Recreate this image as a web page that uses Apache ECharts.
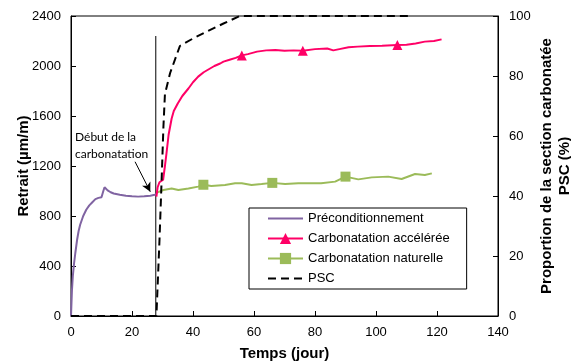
<!DOCTYPE html>
<html>
<head>
<meta charset="utf-8">
<script src="https://cdn.jsdelivr.net/npm/echarts@6/dist/echarts.min.js"></script>
<style>
  html, body { margin: 0; padding: 0; background: #fff; }
  #chart { width: 571px; height: 362px; }
</style>
</head>
<body>
<div id="chart"></div>
<script>
// Préconditionnement
var precondX = [0, 0.3, 0.6, 1, 1.4, 2, 2.5, 3, 4, 5, 6, 7, 8, 9, 10, 10.6, 11, 12, 13, 14, 16, 18, 20, 22, 24, 26, 27.5, 28];
var precondY = [0, 200, 320, 420, 500, 610, 680, 730, 800, 850, 885, 910, 935, 945, 950, 1000, 1030, 1005, 990, 980, 970, 962, 958, 955, 958, 962, 970, 975];

// Carbonatation accélérée
var accX = [28, 28.4, 29, 30.2, 30.8, 31.3, 32, 33, 33.7, 35, 36.5, 38.5, 40, 41.7, 43.5, 45.6, 47, 48.9, 50, 52, 54, 56, 58, 61, 64, 67, 70, 73, 76, 80, 84, 86, 88, 91, 94, 98, 102, 107, 110, 113, 116, 119, 121.5];
var accY = [955, 1030, 1070, 1090, 1200, 1300, 1450, 1580, 1640, 1700, 1760, 1820, 1870, 1915, 1950, 1980, 2000, 2020, 2035, 2050, 2065, 2085, 2095, 2115, 2125, 2128, 2122, 2125, 2122, 2135, 2140, 2125, 2135, 2150, 2155, 2160, 2162, 2168, 2170, 2180, 2195, 2200, 2213];
var accMarkers = [56, 76, 107];

// Carbonatation naturelle
var natX = [28, 28.6, 30.3, 33, 35.2, 38.5, 41.7, 43.4, 46, 50.5, 53.8, 56, 59.2, 62.5, 66, 70.2, 74.5, 78, 82, 86.6, 90, 94.2, 98.6, 104, 108.4, 112.8, 116, 118.3];
var natY = [985, 995, 1008, 1020, 1008, 1020, 1035, 1050, 1040, 1048, 1062, 1062, 1048, 1056, 1065, 1056, 1062, 1062, 1062, 1075, 1115, 1093, 1109, 1115, 1096, 1136, 1128, 1141];
var natMarkers = [43.4, 66, 90];

// PSC (%)
var pscX = [0, 28, 29, 29.7, 30.3, 30.8, 32.5, 35.7, 40, 44.5, 50, 55.4, 112];
var pscY = [0, 0, 25, 45, 63, 74, 81, 90, 92.5, 94.8, 97.5, 100, 100];

// début de la carbonatation
var startDay = 27.8;
var startLineTop = 2240;

function pairs(xs, ys, markers) {
  var out = [];
  for (var i = 0; i < xs.length; i++) {
    if (markers && markers.indexOf(xs[i]) === -1) {
      out.push({ value: [xs[i], ys[i]], symbol: "none" });
    } else {
      out.push([xs[i], ys[i]]);
    }
  }
  return out;
}

var font = "Liberation Sans";
var noSymbol = { color: "rgba(0,0,0,0)", borderWidth: 0, opacity: 0 };
var myChart = echarts.init(document.getElementById("chart"));

var option = {
  animation: false,
  textStyle: { fontFamily: font },
  grid: {
    left: 71,
    right: 73,
    top: 16,
    bottom: 46,
    containLabel: false,
    outerBoundsMode: "none",
    show: true,
    borderColor: "#000",
    borderWidth: 1,
  },
  legend: {
    orient: "vertical",
    left: 249,
    top: 208,
    itemWidth: 35,
    itemHeight: 14,
    itemGap: 7,
    padding: [4, 17, 4, 18],
    backgroundColor: "#fff",
    borderColor: "#000",
    borderWidth: 1,
    borderRadius: 0,
    textStyle: { fontFamily: font, fontSize: 13, color: "#000" },
    data: [
      { name: "Préconditionnement", itemStyle: noSymbol },
      { name: "Carbonatation accélérée" },
      { name: "Carbonatation naturelle" },
      { name: "PSC", itemStyle: noSymbol },
    ],
  },
  graphic: [
    {
      type: "text",
      left: 75,
      top: 129,
      style: {
        text: "Début de la\ncarbonatation",
        fontFamily: "Lato",
        fontSize: 12,
        lineHeight: 17,
        fill: "#000",
      },
    },
  ],
  xAxis: {
    type: "value",
    min: 0,
    max: 140,
    interval: 20,
    name: "Temps (jour)",
    nameLocation: "middle",
    nameGap: 30,
    nameMoveOverlap: false,
    nameTextStyle: { fontFamily: font, fontSize: 15, fontWeight: "bold", color: "#000" },
    axisLine: { lineStyle: { color: "#000", width: 1 } },
    axisTick: { inside: true, length: 5, lineStyle: { color: "#000" } },
    axisLabel: { fontFamily: font, fontSize: 13, color: "#000", margin: 10 },
    splitLine: { show: false },
  },
  yAxis: [
    {
      type: "value",
      min: 0,
      max: 2400,
      interval: 400,
      name: "Retrait (µm/m)",
      nameLocation: "middle",
      nameRotate: 90,
      nameGap: 40,
      nameMoveOverlap: false,
      nameTextStyle: { fontFamily: font, fontSize: 15, fontWeight: "bold", color: "#000" },
      axisLine: { show: true, lineStyle: { color: "#000", width: 1 } },
      axisTick: { show: true, inside: true, length: 5, lineStyle: { color: "#000" } },
      axisLabel: { fontFamily: font, fontSize: 13, color: "#000", margin: 10, formatter: function (v) { return String(v); } },
      splitLine: { show: false },
    },
    {
      type: "value",
      position: "right",
      min: 0,
      max: 100,
      interval: 20,
      name: "Proportion de la section carbonatée\nPSC (%)",
      nameLocation: "middle",
      nameRotate: 90,
      nameGap: 40,
      nameMoveOverlap: false,
      nameTextStyle: { fontFamily: font, fontSize: 15, fontWeight: "bold", color: "#000", lineHeight: 18 },
      axisLine: { show: true, lineStyle: { color: "#000", width: 1 } },
      axisTick: { show: true, inside: true, length: 5, lineStyle: { color: "#000" } },
      axisLabel: { fontFamily: font, fontSize: 13, color: "#000", margin: 11 },
      splitLine: { show: false },
    },
  ],
  series: [
    {
      name: "start",
      type: "line",
      yAxisIndex: 0,
      symbol: "none",
      silent: true,
      lineStyle: { color: "#000", width: 1 },
      data: [[startDay, 0], [startDay, startLineTop]],
      markLine: {
        silent: true,
        symbol: ["none", "arrow"],
        symbolSize: [7, 9],
        label: { show: false },
        lineStyle: { color: "#000", width: 1, type: "solid" },
        data: [[{ coord: [21, 1234] }, { coord: [26, 994] }]],
      },
    },
    {
      name: "Préconditionnement",
      type: "line",
      yAxisIndex: 0,
      symbol: "none",
      color: "#8064A2",
      lineStyle: { color: "#8064A2", width: 2 },
      data: pairs(precondX, precondY),
    },
    {
      name: "Carbonatation naturelle",
      type: "line",
      yAxisIndex: 0,
      symbol: "rect",
      symbolSize: 10,
      showSymbol: true,
      color: "#9BBB59",
      itemStyle: { color: "#9BBB59" },
      lineStyle: { color: "#9BBB59", width: 2 },
      data: pairs(natX, natY, natMarkers),
    },
    {
      name: "Carbonatation accélérée",
      type: "line",
      yAxisIndex: 0,
      symbol: "triangle",
      symbolSize: 10,
      showSymbol: true,
      color: "#FF0066",
      itemStyle: { color: "#FF0066" },
      lineStyle: { color: "#FF0066", width: 2 },
      data: pairs(accX, accY, accMarkers),
    },
    {
      name: "PSC",
      type: "line",
      yAxisIndex: 1,
      symbol: "none",
      color: "#000",
      lineStyle: { color: "#000", width: 2, type: [8, 5] },
      data: pairs(pscX, pscY),
    },
  ],
};

myChart.setOption(option);
</script>
</body>
</html>
